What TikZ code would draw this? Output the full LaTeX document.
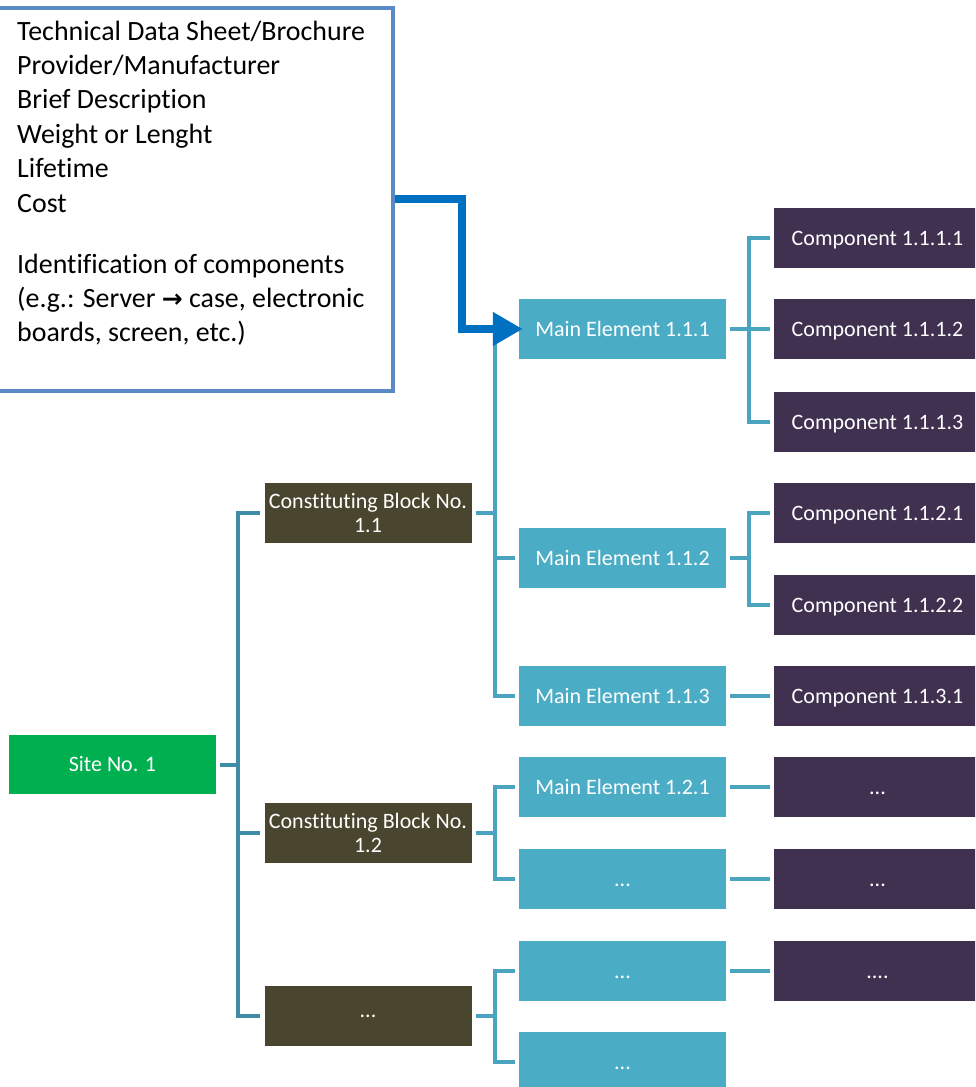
\documentclass[tikz,border=0pt]{standalone}
\usepackage{fontspec}
\setmainfont{Carlito}[Ligatures={NoCommon}]
\newfontfamily\arrowfont{DejaVu Sans}
\usetikzlibrary{arrows.meta,calc}
\definecolor{mainc}{HTML}{4BACC6}
\definecolor{compc}{HTML}{403151}
\definecolor{blockc}{HTML}{4A452E}
\definecolor{sitec}{HTML}{00B050}
\definecolor{lineL}{HTML}{3F8CA7}
\definecolor{lineR}{HTML}{4AA3BF}
\definecolor{infoc}{HTML}{5A8AC6}
\definecolor{arrowc}{HTML}{0070C0}
\tikzset{
  box/.style={rectangle, inner sep=0pt, minimum width=207pt, minimum height=60pt,
    text=white, font=\fontsize{22}{23.5}\selectfont, align=center},
  single/.style={text height=14.2pt, text depth=0pt},
  mainbox/.style={box, single, fill=mainc},
  compbox/.style={box, single, fill=compc},
  blockbox/.style={box, fill=blockc},
  sitebox/.style={box, single, fill=sitec, minimum height=59pt},
  conn/.style={line width=4pt, shorten <=4pt, shorten >=4pt},
  connL/.style={conn, draw=lineL},
  connR/.style={conn, draw=lineR},
  infobox/.style={rectangle, draw=infoc, line width=3.5pt, inner sep=0pt,
    minimum width=396pt, minimum height=383pt, anchor=north west},
  infotext/.style={inner sep=0pt, anchor=north west, align=left,
    font=\fontsize{27.9}{34.4}\selectfont},
  bigarrow/.style={draw=arrowc, line width=8pt, -{Triangle[length=30pt,width=32pt]}}
}
\begin{document}
\begin{tikzpicture}[x=1pt,y=-1pt]
\useasboundingbox (0,0) rectangle (975,1087);
\clip (0,0) rectangle (975,1087);

% info box
\node[infobox] (info) at (-5,6) {};
\node[infotext] (itext) at (17,20.5) {Technical Data Sheet/Brochure\\
Provider/Manufacturer\\
Brief Description\\
Weight or Lenght\\
Lifetime\\
Cost\\[26.6pt]
Identification of components\\
(e.g.: Server {\arrowfont\bfseries\fontsize{25}{34.4}\selectfont →} case, electronic\\
boards, screen, etc.)};

% site
\node[sitebox] (site) at (112.5,764.5) {Site No. 1};

% blocks
\node[blockbox] (b11) at (368,513) {Constituting Block No.\\1.1};
\node[blockbox] (b12) at (368,833) {Constituting Block No.\\1.2};
\node[blockbox] (b13) at (368,1016) {...};

% main elements
\node[mainbox] (m111) at (622.5,329) {Main Element 1.1.1};
\node[mainbox] (m112) at (622.5,558) {Main Element 1.1.2};
\node[mainbox] (m113) at (622.5,696) {Main Element 1.1.3};
\node[mainbox] (m121) at (622.5,787) {Main Element 1.2.1};
\node[mainbox] (m122) at (622.5,879) {...};
\node[mainbox] (m131) at (622.5,971) {...};
\node[mainbox] (m132) at (622.5,1062) {...};

% components
\node[compbox] (c1111) at (877.5,238) {Component 1.1.1.1};
\node[compbox] (c1112) at (877.5,329) {Component 1.1.1.2};
\node[compbox] (c1113) at (877.5,422) {Component 1.1.1.3};
\node[compbox] (c1121) at (877.5,513) {Component 1.1.2.1};
\node[compbox] (c1122) at (877.5,605) {Component 1.1.2.2};
\node[compbox] (c1131) at (877.5,696) {Component 1.1.3.1};
\node[compbox] (c1211) at (877.5,787) {...};
\node[compbox] (c1221) at (877.5,879) {...};
\node[compbox] (c1311) at (877.5,971) {....};

% site -> blocks
\foreach \b in {b11,b12,b13}
  \draw[connL] (site.east) -- ++(22,0) |- (\b.west);

% blocks -> main elements
\foreach \m in {m111,m112,m113}
  \draw[connR] (b11.east) -- ++(23,0) |- (\m.west);
\foreach \m in {m121,m122}
  \draw[connR] (b12.east) -- ++(23,0) |- (\m.west);
\foreach \m in {m131,m132}
  \draw[connR] (b13.east) -- ++(23,0) |- (\m.west);

% main elements -> components
\foreach \c in {c1111,c1112,c1113}
  \draw[connR] (m111.east) -- ++(23,0) |- (\c.west);
\foreach \c in {c1121,c1122}
  \draw[connR] (m112.east) -- ++(23,0) |- (\c.west);
\draw[connR] (m113.east) -- (c1131.west);
\draw[connR] (m121.east) -- (c1211.west);
\draw[connR] (m122.east) -- (c1221.west);
\draw[connR] (m131.east) -- (c1311.west);

% big arrow
\draw[bigarrow] (info.east) -- ++(67,0) |- ($(m111.west)+(4,0)$);
\end{tikzpicture}
\end{document}
